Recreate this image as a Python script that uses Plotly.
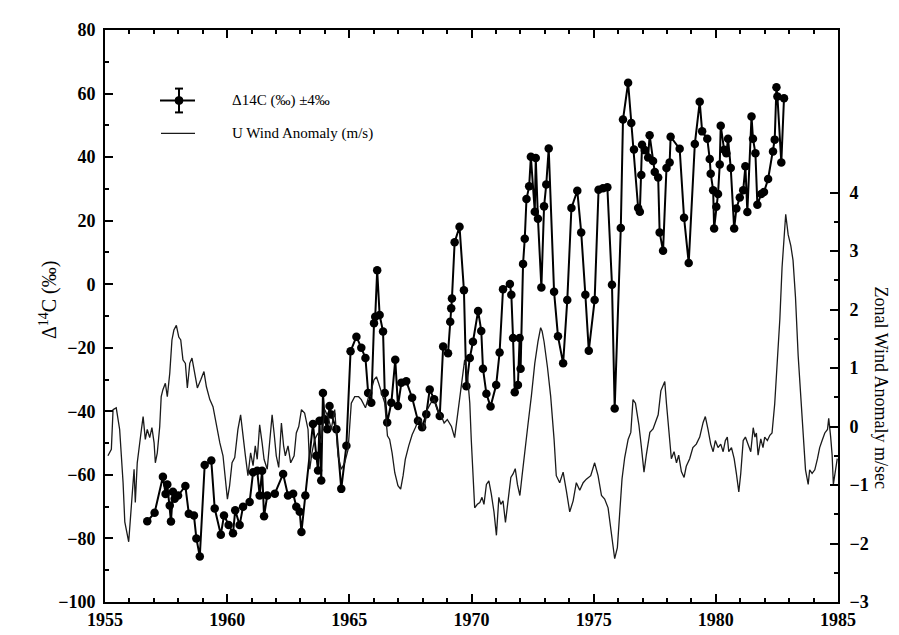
import plotly.graph_objects as go

# ---------------- data ----------------
c14_year = [1956.73, 1957.03, 1957.37, 1957.48, 1957.55, 1957.65, 1957.70, 1957.78, 1957.85, 1957.99,
            1958.29, 1958.43, 1958.64, 1958.74, 1958.88, 1959.08, 1959.35, 1959.49, 1959.74, 1959.87,
            1960.06, 1960.24, 1960.33, 1960.51, 1960.65, 1960.92, 1961.06, 1961.23, 1961.33, 1961.43,
            1961.51, 1961.64, 1961.95, 1962.29, 1962.49, 1962.70, 1962.83, 1962.97, 1963.04, 1963.20,
            1963.51, 1963.65, 1963.72, 1963.78, 1963.85, 1963.92, 1963.99, 1964.10, 1964.19, 1964.26,
            1964.47, 1964.67, 1964.88, 1965.05, 1965.29, 1965.49, 1965.66, 1965.77, 1965.90, 1966.01,
            1966.06, 1966.14, 1966.24, 1966.38, 1966.45, 1966.55, 1966.72, 1966.88, 1966.99, 1967.13,
            1967.33, 1967.57, 1967.81, 1967.98, 1968.15, 1968.29, 1968.47, 1968.70, 1968.84, 1969.04,
            1969.13, 1969.17, 1969.20, 1969.31, 1969.51, 1969.69, 1969.79, 1969.93, 1970.06, 1970.27,
            1970.40, 1970.47, 1970.61, 1970.78, 1971.01, 1971.15, 1971.29, 1971.57, 1971.63, 1971.70,
            1971.77, 1971.90, 1971.97, 1972.01, 1972.11, 1972.18, 1972.25, 1972.36, 1972.43, 1972.59,
            1972.63, 1972.72, 1972.86, 1972.97, 1973.06, 1973.16, 1973.38, 1973.54, 1973.75, 1973.92,
            1974.09, 1974.33, 1974.49, 1974.66, 1974.80, 1975.04, 1975.20, 1975.38, 1975.56, 1975.75,
            1975.86, 1976.11, 1976.20, 1976.41, 1976.54, 1976.65, 1976.82, 1976.89, 1976.95, 1976.98,
            1977.09, 1977.23, 1977.29, 1977.43, 1977.50, 1977.64, 1977.70, 1977.84, 1977.98, 1978.11,
            1978.15, 1978.52, 1978.70, 1978.89, 1979.14, 1979.34, 1979.44, 1979.65, 1979.75, 1979.79,
            1979.89, 1979.93, 1980.02, 1980.09, 1980.16, 1980.20, 1980.34, 1980.43, 1980.50, 1980.61,
            1980.75, 1980.84, 1980.98, 1981.12, 1981.21, 1981.29, 1981.46, 1981.52, 1981.62, 1981.70,
            1981.86, 1981.97, 1982.14, 1982.34, 1982.41, 1982.48, 1982.52, 1982.68, 1982.79]
c14_value = [-74.6, -71.9, -60.6, -66.0, -63.0, -69.6, -74.7, -65.3, -67.5, -66.5,
             -63.5, -72.2, -72.8, -80.0, -85.7, -56.9, -55.5, -70.6, -78.8, -72.8,
             -75.8, -78.4, -71.1, -75.8, -70.0, -68.5, -59.2, -58.7, -66.5, -58.7,
             -73.0, -66.5, -65.9, -59.7, -66.5, -65.9, -70.0, -71.6, -78.0, -66.5,
             -44.0, -54.0, -58.6, -43.0, -61.8, -34.2, -42.5, -45.6, -38.3, -41.0,
             -45.6, -64.4, -50.8, -21.1, -16.5, -20.0, -23.2, -34.2, -37.3, -12.3,
             -10.2, 4.4, -9.7, -14.9, -34.2, -43.5, -37.3, -23.8, -38.3, -31.0,
             -30.5, -35.7, -43.0, -45.0, -40.9, -33.1, -36.2, -41.5, -19.6, -21.7,
             -11.8, -7.6, -4.5, 13.2, 18.1, -1.9, -32.1, -23.2, -18.1, -8.4,
             -14.7, -26.6, -34.5, -38.5, -31.7, -21.5, -1.6, 0.1, -3.3, -16.9,
             -34.0, -31.7, -16.9, -26.6, 6.4, 14.3, 26.8, 30.8, 40.1, 22.8,
             39.7, 20.6, -1.0, 24.5, 31.4, 42.7, -2.4, -16.4, -24.9, -5.0,
             24.0, 29.4, 16.3, -3.3, -20.9, -5.0, 29.7, 30.2, 30.5, -0.2,
             -39.1, 17.7, 51.8, 63.4, 50.7, 42.4, 24.0, 22.8, 34.4, 43.9,
             42.2, 39.9, 46.9, 38.8, 35.3, 33.6, 16.3, 10.5, 36.6, 38.3,
             46.4, 42.6, 20.9, 6.7, 44.1, 57.4, 48.1, 45.8, 39.4, 34.8,
             29.6, 17.5, 24.4, 28.4, 37.7, 49.9, 42.3, 41.2, 45.8, 36.6,
             17.5, 23.8, 27.3, 29.6, 37.1, 22.7, 52.8, 45.8, 41.2, 25.0,
             28.4, 29.0, 33.1, 41.8, 45.5, 62.0, 59.1, 38.3, 58.5]

wind_year = [1955.12, 1955.26, 1955.33, 1955.46, 1955.60, 1955.74, 1955.81, 1955.87, 1955.97, 1956.08,
             1956.19, 1956.24, 1956.32, 1956.49, 1956.56, 1956.65, 1956.73, 1956.83, 1956.92, 1957.01,
             1957.06, 1957.14, 1957.24, 1957.30, 1957.37, 1957.47, 1957.55, 1957.65, 1957.74, 1957.82,
             1957.92, 1958.02, 1958.10, 1958.19, 1958.29, 1958.37, 1958.47, 1958.56, 1958.67, 1958.78,
             1958.92, 1959.05, 1959.15, 1959.29, 1959.42, 1959.56, 1959.70, 1959.83, 1959.92, 1960.01,
             1960.10, 1960.20, 1960.31, 1960.44, 1960.55, 1960.65, 1960.74, 1960.85, 1960.96, 1961.06,
             1961.15, 1961.23, 1961.33, 1961.43, 1961.51, 1961.64, 1961.74, 1961.84, 1961.92, 1962.01,
             1962.11, 1962.22, 1962.31, 1962.38, 1962.49, 1962.60, 1962.74, 1962.83, 1962.93, 1963.04,
             1963.17, 1963.31, 1963.38, 1963.47, 1963.58, 1963.72, 1963.85, 1963.99, 1964.13, 1964.26,
             1964.40, 1964.54, 1964.67, 1964.81, 1964.95, 1965.08, 1965.22, 1965.38, 1965.49, 1965.66,
             1965.79, 1965.90, 1966.01, 1966.11, 1966.20, 1966.31, 1966.45, 1966.56, 1966.65, 1966.75,
             1966.86, 1966.99, 1967.10, 1967.20, 1967.29, 1967.43, 1967.57, 1967.70, 1967.84, 1967.95,
             1968.06, 1968.19, 1968.33, 1968.47, 1968.60, 1968.74, 1968.88, 1969.01, 1969.18, 1969.31,
             1969.42, 1969.52, 1969.61, 1969.72, 1969.83, 1969.93, 1969.99, 1970.06, 1970.13, 1970.24,
             1970.34, 1970.43, 1970.51, 1970.61, 1970.71, 1970.81, 1970.92, 1971.02, 1971.12, 1971.20,
             1971.29, 1971.39, 1971.50, 1971.61, 1971.70, 1971.79, 1971.88, 1971.98, 1972.07, 1972.18,
             1972.31, 1972.45, 1972.59, 1972.72, 1972.83, 1972.89, 1972.97, 1973.11, 1973.24, 1973.38,
             1973.47, 1973.61, 1973.75, 1973.88, 1974.02, 1974.16, 1974.29, 1974.43, 1974.57, 1974.70,
             1974.88, 1975.04, 1975.18, 1975.32, 1975.45, 1975.59, 1975.72, 1975.86, 1975.97, 1976.07,
             1976.16, 1976.27, 1976.41, 1976.52, 1976.61, 1976.71, 1976.85, 1976.95, 1977.06, 1977.16,
             1977.30, 1977.43, 1977.53, 1977.64, 1977.75, 1977.84, 1977.91, 1977.98, 1978.07, 1978.18,
             1978.29, 1978.39, 1978.48, 1978.59, 1978.70, 1978.79, 1978.93, 1979.06, 1979.20, 1979.34,
             1979.48, 1979.57, 1979.68, 1979.79, 1979.89, 1979.98, 1980.09, 1980.20, 1980.30, 1980.39,
             1980.47, 1980.53, 1980.64, 1980.75, 1980.84, 1980.94, 1981.02, 1981.12, 1981.21, 1981.32,
             1981.43, 1981.53, 1981.60, 1981.66, 1981.73, 1981.84, 1981.93, 1982.00, 1982.11, 1982.21,
             1982.30, 1982.41, 1982.52, 1982.62, 1982.71, 1982.84, 1982.86, 1982.96, 1983.07, 1983.16,
             1983.26, 1983.37, 1983.48, 1983.58, 1983.67, 1983.78, 1983.84, 1983.94, 1984.05, 1984.16,
             1984.25, 1984.35, 1984.46, 1984.57, 1984.62, 1984.70, 1984.76, 1984.81, 1984.89, 1984.97]
wind_value = [-0.50, -0.39, 0.29, 0.32, -0.05, -0.96, -1.63, -1.75, -1.97, -1.35,
              -0.73, -1.30, -0.62, -0.05, 0.17, -0.22, -0.05, -0.19, -0.02, -0.28,
              -0.62, -0.45, 0.00, 0.51, 0.63, 0.74, 0.51, 0.91, 1.48, 1.65,
              1.73, 1.53, 1.48, 1.14, 1.08, 0.66, 1.08, 1.17, 0.91, 0.66,
              0.80, 0.94, 0.68, 0.46, 0.34, 0.00, -0.28, -0.50, -0.84, -1.24,
              -1.01, -0.62, -0.53, -0.05, 0.20, -0.22, -0.48, -0.84, -0.45, -0.67,
              -0.33, -0.56, 0.03, -0.28, -0.56, -0.73, -0.28, 0.20, -0.11, -0.50,
              -0.70, 0.06, -0.33, -0.50, -0.33, -0.62, -0.50, -0.11, 0.00, 0.29,
              0.23, -0.05, -0.73, -0.45, -0.22, -0.11, -0.28, 0.29, 0.17, -0.05,
              0.29, -0.50, -0.73, -0.62, -0.39, 0.40, 0.51, 0.51, 0.46, 0.32,
              0.51, 0.63, 0.80, 0.85, 0.74, 0.57, 0.40, -0.16, -0.22, -0.45,
              -0.79, -1.01, -1.07, -0.84, -0.56, -0.33, -0.14, -0.02, 0.12, 0.09,
              -0.05, 0.29, 0.40, 0.46, 0.29, 0.20, 0.06, 0.12, 0.00, -0.19,
              0.17, 0.51, 0.85, 1.14, 0.90, 0.40, -0.22, -0.84, -1.39, -1.33,
              -1.30, -1.21, -1.33, -0.99, -0.93, -1.15, -1.46, -1.86, -1.21, -1.33,
              -1.27, -1.64, -1.21, -0.87, -0.81, -0.72, -0.99, -1.18, -0.84, -0.41,
              0.03, 0.52, 1.08, 1.45, 1.69, 1.63, 1.45, 1.01, 0.52, -0.22,
              -0.84, -0.96, -0.78, -1.09, -1.46, -1.27, -0.96, -1.09, -0.96, -0.90,
              -0.84, -0.62, -0.84, -1.18, -1.24, -1.39, -1.83, -2.26, -2.07, -1.39,
              -0.90, -0.53, -0.22, -0.10, 0.46, 0.40, 0.03, -0.34, -0.78, -0.47,
              -0.10, -0.04, 0.09, 0.20, 0.61, 0.70, 0.77, 0.39, -0.05, -0.55,
              -0.43, -0.62, -0.49, -0.77, -0.87, -0.68, -0.55, -0.36, -0.30, -0.18,
              0.07, 0.17, -0.05, -0.30, -0.43, -0.24, -0.36, -0.30, -0.43, -0.24,
              -0.18, -0.43, -0.36, -0.55, -0.80, -1.12, -0.80, -0.24, -0.18, -0.30,
              -0.43, -0.02, -0.18, -0.11, -0.49, -0.21, -0.36, -0.18, -0.24, -0.15,
              -0.11, 0.39, 1.08, 1.84, 2.72, 3.41, 3.63, 3.28, 3.09, 2.84,
              2.21, 1.21, 0.45, -0.30, -0.74, -0.99, -0.74, -0.80, -0.74, -0.55,
              -0.36, -0.24, -0.11, -0.05, 0.14, -0.18, -0.49, -0.99, -0.80, -0.55]

x_ticks = [1955, 1960, 1965, 1970, 1975, 1980, 1985]
y_ticks = [-100, -80, -60, -40, -20, 0, 20, 40, 60, 80]
y2_ticks = [-3, -2, -1, 0, 1, 2, 3, 4]
y2_minor = [-2.5, -1.5, -0.5, 0.5, 1.5, 2.5, 3.5]

legend_c14 = "Δ14C (‰) ±4‰"
legend_wind = "U Wind Anomaly (m/s)"
left_title = "Δ<sup>14</sup>C (‰)"
right_title = "Zonal Wind Anomaly m/sec"

# ---------------- figure ----------------
FONT = "Liberation Serif, Times New Roman, serif"
fig = go.Figure()

fig.add_trace(go.Scatter(
    x=wind_year, y=wind_value, yaxis="y2", mode="lines",
    line=dict(color="#1a1a1a", width=1.3), name=legend_wind))

fig.add_trace(go.Scatter(
    x=c14_year, y=c14_value, mode="lines+markers",
    line=dict(color="black", width=2),
    marker=dict(color="black", size=8.5), name=legend_c14))

L, R, T, B = 97, 830, 18, 594
W, H = R - L, B - T


def px(xp):
    return (xp - L) / W


def py(yp):
    return (B - yp) / H


shapes = [
    dict(type="line", xref="paper", yref="paper", x0=px(152), x1=px(187), y0=py(89), y1=py(89),
         line=dict(color="black", width=2)),
    dict(type="line", xref="paper", yref="paper", x0=px(171), x1=px(171), y0=py(77), y1=py(101),
         line=dict(color="black", width=2)),
    dict(type="line", xref="paper", yref="paper", x0=px(167), x1=px(175), y0=py(77), y1=py(77),
         line=dict(color="black", width=2)),
    dict(type="line", xref="paper", yref="paper", x0=px(167), x1=px(175), y0=py(101), y1=py(101),
         line=dict(color="black", width=2)),
    dict(type="circle", xref="paper", yref="paper", x0=px(167), x1=px(175), y0=py(93), y1=py(85),
         fillcolor="black", line=dict(color="black", width=1)),
    dict(type="line", xref="paper", yref="paper", x0=px(153), x1=px(187), y0=py(122), y1=py(122),
         line=dict(color="#1a1a1a", width=1.2)),
]

annotations = [
    dict(text=legend_c14, xref="paper", yref="paper", x=px(222), y=py(89), xanchor="left",
         yanchor="middle", showarrow=False, font=dict(family=FONT, size=15, color="black")),
    dict(text=legend_wind, xref="paper", yref="paper", x=px(222), y=py(122), xanchor="left",
         yanchor="middle", showarrow=False, font=dict(family=FONT, size=15, color="black")),
    dict(text=left_title, xref="paper", yref="paper", x=px(40), y=py(290), xanchor="center",
         yanchor="middle", textangle=-90, showarrow=False,
         font=dict(family=FONT, size=20, color="black")),
    dict(text=right_title, xref="paper", yref="paper", x=px(873), y=py(378), xanchor="center",
         yanchor="middle", textangle=90, showarrow=False,
         font=dict(family=FONT, size=18, color="black")),
]

tickfont = dict(family=FONT, size=18, color="black", weight="bold")

fig.update_layout(
    width=899, height=635,
    margin=dict(l=L, r=899 - R, t=T, b=635 - B, pad=0),
    paper_bgcolor="white", plot_bgcolor="white",
    showlegend=False,
    shapes=shapes, annotations=annotations,
    xaxis=dict(range=[1955, 1985], tickvals=x_ticks, ticks="inside", ticklen=8, tickwidth=2,
               tickcolor="black", showline=True, linewidth=2, linecolor="black", mirror="ticks",
               showgrid=False, zeroline=False, tickfont=tickfont,
               minor=dict(dtick=1, tick0=1955, ticks="inside", ticklen=4, tickwidth=1.5,
                          tickcolor="black", showgrid=False)),
    yaxis=dict(range=[-100, 80], tickvals=y_ticks, ticks="inside", ticklen=8, tickwidth=2,
               tickcolor="black", showline=True, linewidth=2, linecolor="black", mirror=False,
               showgrid=False, zeroline=False, tickfont=tickfont, ticklabelstandoff=4,
               minor=dict(dtick=10, tick0=0, ticks="inside", ticklen=4, tickwidth=1.5,
                          tickcolor="black", showgrid=False)),
    yaxis2=dict(range=[-3, 6.78], overlaying="y", side="right", tickvals=y2_ticks,
                ticks="inside", ticklen=8, tickwidth=2, tickcolor="black", showline=True,
                linewidth=2, linecolor="black", showgrid=False, zeroline=False,
                tickfont=tickfont, ticklabelstandoff=6,
                minor=dict(tickvals=y2_minor, ticks="inside", ticklen=4, tickwidth=1.5,
                           tickcolor="black", showgrid=False)),
)

fig.write_html("out.html")
